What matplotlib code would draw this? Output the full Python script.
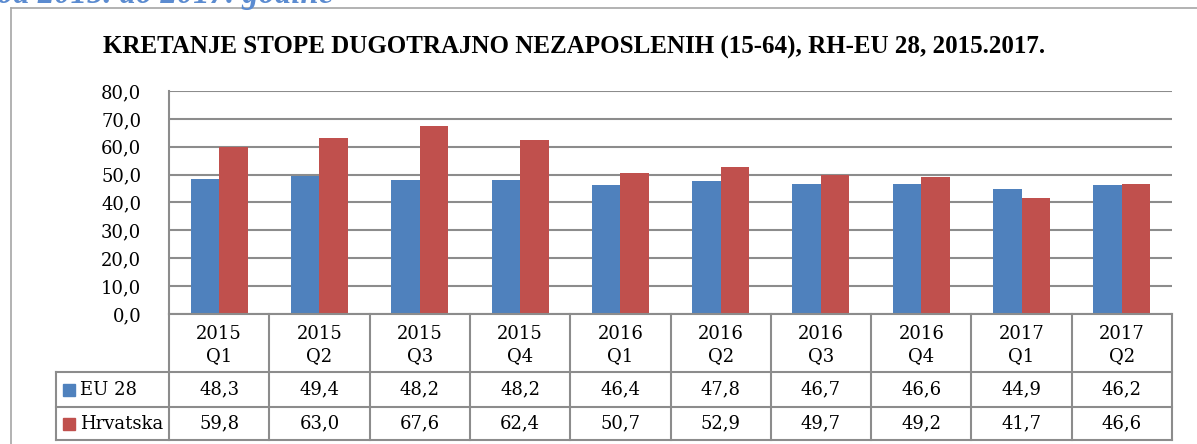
import matplotlib
matplotlib.use("Agg")
import matplotlib.pyplot as plt
from matplotlib.ticker import FuncFormatter

# data
quarters = ["2015\nQ1", "2015\nQ2", "2015\nQ3", "2015\nQ4", "2016\nQ1",
            "2016\nQ2", "2016\nQ3", "2016\nQ4", "2017\nQ1", "2017\nQ2"]
eu28 = [48.3, 49.4, 48.2, 48.2, 46.4, 47.8, 46.7, 46.6, 44.9, 46.2]
hrvatska = [59.8, 63.0, 67.6, 62.4, 50.7, 52.9, 49.7, 49.2, 41.7, 46.6]
series_names = ["EU 28", "Hrvatska"]
colors = ["#4F81BD", "#C0504D"]
yticks = [0, 10, 20, 30, 40, 50, 60, 70, 80]

W, H = 1197, 444
GRID = "#8C8C8C"
FONT = "DejaVu Serif"


def fx(px):
    return px / W


def fy(py):
    return 1 - py / H


fig = plt.figure(figsize=(W / 100, H / 100), dpi=100)

# outer frame of the embedded chart (left and top edges visible)
fig.add_artist(plt.Line2D([fx(11), fx(11)], [fy(8), 0], color="#A6A6A6", lw=1.2))
fig.add_artist(plt.Line2D([fx(11), 1], [fy(8), fy(8)], color="#A6A6A6", lw=1.2))

# cut-off heading of the document above the chart
fig.text(fx(-3), fy(2.5), "od 2015. do 2017. godine", fontsize=23.5, color="#5B8BD0",
         family="Liberation Serif", weight="bold", style="italic", va="baseline")

fig.text(fx(574), fy(47), "KRETANJE STOPE DUGOTRAJNO NEZAPOSLENIH (15-64), RH-EU 28, 2015.2017.",
         fontsize=18, family="Liberation Serif", weight="bold", ha="center", va="center")

# bar area
left, right, top, zero = 169, 1172, 91, 314
ax = fig.add_axes([fx(left), fy(zero), fx(right - left), (zero - top) / H])
n = len(quarters)
x = [i + 0.5 for i in range(n)]
bw = 0.284
ax.bar([v - bw / 2 for v in x], eu28, width=bw, color=colors[0], zorder=3)
ax.bar([v + bw / 2 for v in x], hrvatska, width=bw, color=colors[1], zorder=3)
ax.set_xlim(0, n)
ax.set_ylim(0, 80)
ax.set_yticks(yticks)
ax.yaxis.set_major_formatter(FuncFormatter(lambda v, p: f"{v:.1f}".replace(".", ",")))
ax.grid(axis="y", color=GRID, lw=1.5, zorder=0)
ax.set_xticks([])
for s in ["top", "right", "bottom"]:
    ax.spines[s].set_visible(False)
ax.spines["left"].set_color(GRID)
ax.spines["left"].set_linewidth(1.5)
ax.tick_params(axis="y", length=0, pad=20, labelsize=13)
for lab in ax.get_yticklabels():
    lab.set_family(FONT)
ax.patch.set_alpha(0)

# data table below the bars (pixel coordinates for layout)
tab = fig.add_axes([0, 0, 1, 1])
tab.set_xlim(0, W)
tab.set_ylim(H, 0)
tab.axis("off")
tab.patch.set_alpha(0)

label_left = 56
row_y = [314, 372, 407, 440]
cw = (right - left) / n
lw = 1.5

# horizontal lines
tab.plot([left, right], [row_y[0]] * 2, color=GRID, lw=lw)
for yy in row_y[1:]:
    tab.plot([label_left, right], [yy, yy], color=GRID, lw=lw)
# vertical lines
tab.plot([label_left, label_left], [row_y[1], row_y[3]], color=GRID, lw=lw)
for i in range(n + 1):
    tab.plot([left + i * cw] * 2, [row_y[0], row_y[3]], color=GRID, lw=lw)

for i, q in enumerate(quarters):
    cx = left + (i + 0.5) * cw
    tab.text(cx, (row_y[0] + row_y[1]) / 2 + 2, q, ha="center", va="center",
             fontsize=13, family=FONT, linespacing=1.3)
    for r, vals in enumerate([eu28, hrvatska]):
        cy = (row_y[r + 1] + row_y[r + 2]) / 2
        tab.text(cx, cy, f"{vals[i]:.1f}".replace(".", ","), ha="center", va="center",
                 fontsize=13, family=FONT)

for r, name in enumerate(series_names):
    cy = (row_y[r + 1] + row_y[r + 2]) / 2
    tab.add_patch(plt.Rectangle((63, cy - 6), 12, 12, color=colors[r]))
    tab.text(80, cy, name, ha="left", va="center", fontsize=13, family=FONT)

fig.savefig("out.png", dpi=100)
